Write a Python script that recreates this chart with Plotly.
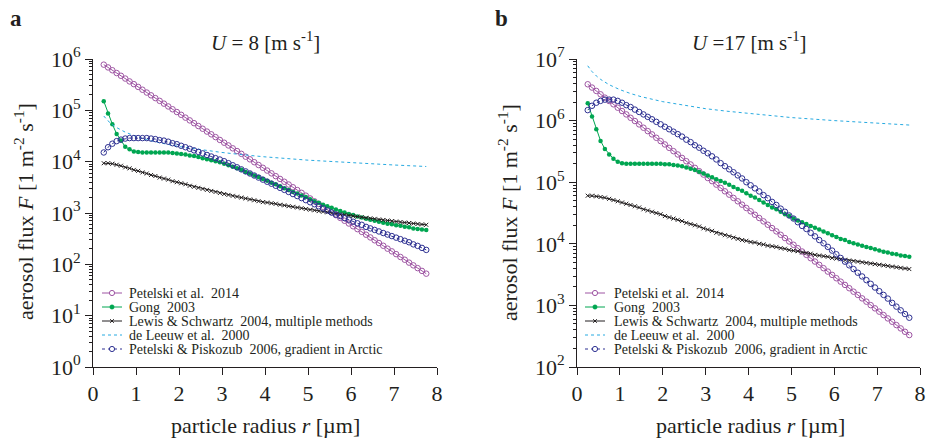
import plotly.graph_objects as go

# ---------------- data ----------------
radius = [0.25, 0.35, 0.45, 0.55, 0.65, 0.75, 0.85, 0.95,
          1.05, 1.15, 1.25, 1.35, 1.45, 1.55, 1.65, 1.75, 1.85, 1.95,
          2.05, 2.15, 2.25, 2.35, 2.45, 2.55, 2.65, 2.75, 2.85, 2.95,
          3.05, 3.15, 3.25, 3.35, 3.45, 3.55, 3.65, 3.75, 3.85, 3.95,
          4.05, 4.15, 4.25, 4.35, 4.45, 4.55, 4.65, 4.75, 4.85, 4.95,
          5.05, 5.15, 5.25, 5.35, 5.45, 5.55, 5.65, 5.75, 5.85, 5.95,
          6.05, 6.15, 6.25, 6.35, 6.45, 6.55, 6.65, 6.75, 6.85, 6.95,
          7.05, 7.15, 7.25, 7.35, 7.45, 7.55, 7.65, 7.75]
radius_leeuw = [0.25, 0.35, 0.45, 0.55, 0.75, 1.0, 1.25, 1.5, 2.0, 2.5, 3.0, 3.5, 4.0, 5.0, 6.0, 7.0, 7.75]

# U = 8 m/s
u8_petelski2014 = [7.76e5, 6.85e5, 6.04e5, 5.33e5, 4.71e5, 4.16e5, 3.66e5, 3.24e5,
                   2.86e5, 2.52e5, 2.22e5, 1.96e5, 1.73e5, 1.53e5, 1.35e5, 1.19e5, 1.05e5, 9.27e4,
                   8.18e4, 7.21e4, 6.37e4, 5.62e4, 4.95e4, 4.38e4, 3.86e4, 3.41e4, 3.01e4, 2.65e4,
                   2.34e4, 2.07e4, 1.82e4, 1.61e4, 1.42e4, 1.25e4, 1.11e4, 9.77e3, 8.61e3, 7.60e3,
                   6.71e3, 5.92e3, 5.22e3, 4.61e3, 4.06e3, 3.59e3, 3.17e3, 2.80e3, 2.47e3, 2.18e3,
                   1.92e3, 1.69e3, 1.50e3, 1.32e3, 1.16e3, 1.03e3, 908, 802, 706, 624,
                   551, 485, 429, 378, 334, 294, 260, 230, 202, 179,
                   158, 139, 123, 108, 95.5, 84.3, 74.5, 65.8]
u8_gong = [151000, 87100, 53700, 34700, 25700, 19500, 17400, 15800,
           15500, 15100, 15100, 15100, 15100, 15100, 15100, 15100, 14800, 14500,
           14100, 13800, 13200, 12900, 12300, 11700, 11200, 10700, 10200, 9770,
           9120, 8510, 7940, 7410, 6920, 6310, 5890, 5370, 5010, 4570,
           4270, 3890, 3630, 3310, 3020, 2820, 2570, 2400, 2190, 2040,
           1860, 1700, 1580, 1450, 1350, 1260, 1170, 1100, 1020, 955,
           912, 851, 813, 776, 741, 708, 676, 646, 617, 603,
           575, 562, 537, 525, 501, 490, 479, 468]
u8_lewis = [9330, 9330, 9120, 8710, 8320, 7760, 7410, 6920,
            6610, 6170, 5890, 5500, 5250, 4900, 4680, 4470, 4170, 3980,
            3800, 3630, 3390, 3240, 3090, 2950, 2820, 2690, 2570, 2450,
            2340, 2250, 2160, 2080, 2000, 1920, 1840, 1770, 1700, 1630,
            1600, 1550, 1510, 1450, 1410, 1360, 1320, 1280, 1240, 1200,
            1160, 1130, 1090, 1060, 1030, 1000, 970, 945, 920, 895,
            871, 851, 828, 806, 787, 768, 749, 731, 714, 698,
            682, 667, 652, 638, 624, 611, 599, 589]
u8_leeuw = [77600, 62200, 52700, 46100, 37600, 31100, 26900, 23800, 19700,
            17000, 15100, 13600, 12400, 10700, 9530, 8610, 8050]
u8_piskozub = [15100, 19100, 22400, 25100, 26900, 28200, 28800, 28800,
               28800, 28800, 28800, 28200, 27500, 26300, 25700, 24500, 22900, 21900,
               20400, 19100, 17800, 16600, 15500, 14500, 13500, 12600, 11700, 11000,
               10200, 9330, 8510, 7760, 7080, 6460, 5890, 5370, 4900, 4470,
               4070, 3720, 3390, 3090, 2820, 2570, 2340, 2140, 1950, 1780,
               1620, 1480, 1350, 1230, 1120, 1020, 933, 871, 794, 741,
               676, 631, 589, 537, 501, 468, 437, 407, 380, 355,
               331, 309, 288, 269, 245, 229, 209, 191]

# U = 17 m/s
u17_petelski2014 = [3.89e6, 3.44e6, 3.03e6, 2.67e6, 2.36e6, 2.08e6, 1.84e6, 1.62e6,
                    1.43e6, 1.26e6, 1.11e6, 9.84e5, 8.67e5, 7.66e5, 6.76e5, 5.97e5, 5.26e5, 4.65e5,
                    4.10e5, 3.61e5, 3.19e5, 2.82e5, 2.48e5, 2.19e5, 1.94e5, 1.71e5, 1.51e5, 1.33e5,
                    1.17e5, 1.04e5, 9.14e4, 8.07e4, 7.11e4, 6.28e4, 5.55e4, 4.90e4, 4.32e4, 3.81e4,
                    3.37e4, 2.96e4, 2.62e4, 2.31e4, 2.04e4, 1.80e4, 1.59e4, 1.40e4, 1.24e4, 1.09e4,
                    9.64e3, 8.49e3, 7.50e3, 6.62e3, 5.83e3, 5.15e3, 4.55e3, 4.02e3, 3.54e3, 3.13e3,
                    2.76e3, 2.43e3, 2.15e3, 1.90e3, 1.67e3, 1.48e3, 1.30e3, 1.15e3, 1.01e3, 895,
                    791, 697, 615, 543, 479, 423, 373, 330]
u17_gong = [1910000, 1170000, 724000, 468000, 347000, 282000, 240000, 214000,
            204000, 200000, 200000, 200000, 200000, 200000, 200000, 200000, 200000, 200000,
            195000, 195000, 191000, 186000, 182000, 174000, 166000, 158000, 148000, 138000,
            129000, 120000, 112000, 105000, 97700, 91200, 83200, 77600, 72400, 66100,
            60300, 56200, 51300, 46800, 42700, 38900, 36300, 33100, 30200, 28200,
            25700, 24000, 22400, 20900, 19500, 18200, 17000, 15800, 14800, 13800,
            12900, 12000, 11500, 10700, 10200, 9770, 9330, 8910, 8510, 8130,
            7760, 7410, 7240, 6920, 6760, 6460, 6310, 6170]
u17_lewis = [60300, 60300, 58900, 57500, 56200, 53700, 51300, 49000,
             46800, 44700, 42700, 40700, 38900, 36300, 34700, 33100, 31600, 30200,
             28200, 26900, 25700, 24500, 23400, 21900, 20900, 20000, 19100, 17800,
             17000, 16200, 15100, 14500, 13800, 13200, 12600, 12000, 11500, 11200,
             10700, 10500, 10000, 9770, 9330, 9120, 8910, 8510, 8320, 7940,
             7760, 7590, 7240, 7080, 6920, 6610, 6460, 6310, 6170, 5890,
             5750, 5620, 5500, 5370, 5250, 5130, 5010, 4900, 4790, 4680,
             4570, 4470, 4370, 4270, 4170, 4070, 3980, 3890]
u17_leeuw = [7760000, 6250000, 5320000, 4670000, 3820000, 3180000, 2750000, 2440000, 2030000,
             1760000, 1560000, 1420000, 1300000, 1120000, 1000000, 906000, 847000]
u17_piskozub = [1480000, 1740000, 1950000, 2090000, 2190000, 2190000, 2190000, 2090000,
                1950000, 1780000, 1660000, 1510000, 1380000, 1260000, 1150000, 1050000, 955000, 871000,
                794000, 724000, 661000, 603000, 550000, 490000, 447000, 398000, 363000, 324000,
                295000, 263000, 234000, 204000, 182000, 162000, 145000, 129000, 115000, 100000,
                89100, 79400, 70800, 61700, 55000, 47900, 42700, 37200, 33100, 28800,
                25700, 22400, 19500, 17400, 15100, 13200, 11500, 10200, 8910, 7760,
                6760, 5890, 5130, 4470, 3890, 3390, 2950, 2570, 2240, 1950,
                1700, 1480, 1290, 1100, 955, 832, 724, 631]

series_names = ["Petelski et al.\u00a0 2014", "Gong\u00a0 2003",
                "Lewis & Schwartz\u00a0 2004, multiple methods",
                "de Leeuw et al.\u00a0 2000",
                "Petelski & Piskozub\u00a0 2006, gradient in Arctic"]
panel_titles = ["<i>U</i> = 8 [m s<sup>-1</sup>]", "<i>U</i> =17 [m s<sup>-1</sup>]"]
panel_letters = ["a", "b"]
x_ticks = [0, 1, 2, 3, 4, 5, 6, 7, 8]
y_exp_left = [0, 1, 2, 3, 4, 5, 6]
y_exp_right = [2, 3, 4, 5, 6, 7]

for arr in [u8_petelski2014, u8_gong, u8_lewis, u8_piskozub,
            u17_petelski2014, u17_gong, u17_lewis, u17_piskozub]:
    assert len(arr) == len(radius), len(arr)

# ---------------- styles ----------------
FONT = "Liberation Serif, Times New Roman, Times, serif"
PURPLE = "#9e55a3"
GREEN = "#00a651"
BLACK = "#231f20"
CYAN = "#27aae1"
BLUE = "#2e3192"
W, H = 927, 439

styles = [
    dict(mode="lines+markers", line=dict(color=PURPLE, width=1),
         marker=dict(symbol="circle-open", size=5.5, color=PURPLE, line=dict(width=1, color=PURPLE))),
    dict(mode="lines+markers", line=dict(color=GREEN, width=1),
         marker=dict(symbol="circle", size=4.5, color=GREEN)),
    dict(mode="lines+markers", line=dict(color=BLACK, width=1),
         marker=dict(symbol="x-thin", size=4, color=BLACK, line=dict(width=1, color=BLACK))),
    dict(mode="lines", line=dict(color=CYAN, width=1, dash="dot")),
    dict(mode="lines+markers", line=dict(color=BLUE, width=1, dash="dot"),
         marker=dict(symbol="circle-open", size=5.5, color=BLUE, line=dict(width=1, color=BLUE))),
]

panels = [
    dict(data=[u8_petelski2014, u8_gong, u8_lewis, u8_leeuw, u8_piskozub], xa="x", ya="y"),
    dict(data=[u17_petelski2014, u17_gong, u17_lewis, u17_leeuw, u17_piskozub], xa="x2", ya="y2"),
]

fig = go.Figure()
for p in panels:
    for k, (vals, st) in enumerate(zip(p["data"], styles)):
        xs = radius_leeuw if k == 3 else radius
        fig.add_trace(go.Scatter(x=xs, y=vals, name=series_names[k], xaxis=p["xa"], yaxis=p["ya"],
                                 showlegend=False, hoverinfo="x+y", **st))

def X(px):
    return px / W

def Y(py):
    return 1 - py / H

tickfont = dict(family=FONT, size=22, color=BLACK)
xbase = dict(range=[0, 8], tickmode="array", tickvals=x_ticks, ticktext=[str(v) for v in x_ticks],
             ticklen=7, tickcolor=BLACK, showline=True, linecolor=BLACK, linewidth=1,
             showgrid=False, zeroline=False, tickfont=tickfont, automargin=False)
ybase = dict(type="log", ticklen=7, tickcolor=BLACK, showline=True, linecolor=BLACK,
             linewidth=1, showgrid=False, zeroline=False, tickfont=tickfont, automargin=False)

def yminor(direction):
    return dict(ticks=direction, ticklen=3.5, tickcolor=BLACK, dtick="D1", showgrid=False)

ydom = [Y(367), Y(59)]
ticks_left = dict(tickvals=[10 ** e for e in y_exp_left], ticktext=["10<sup>%d</sup>" % e for e in y_exp_left])
ticks_right = dict(tickvals=[10 ** e for e in y_exp_right], ticktext=["10<sup>%d</sup>" % e for e in y_exp_right])

fig.update_layout(
    width=W, height=H, margin=dict(l=0, r=0, t=0, b=0, autoexpand=False),
    paper_bgcolor="white", plot_bgcolor="white",
    font=dict(family=FONT, color=BLACK),
    # panel a
    xaxis=dict(domain=[X(93), X(437)], anchor="y", ticks="outside", **xbase),
    yaxis=dict(domain=ydom, anchor="x", range=[0, 6], ticks="outside", minor=yminor("outside"),
               **ticks_left, **ybase),
    xaxis3=dict(overlaying="x", anchor="y", side="top", ticks="inside", showticklabels=False, **xbase),
    yaxis3=dict(overlaying="y", anchor="x", side="right", range=[0, 6], ticks="inside",
                minor=yminor("inside"), showticklabels=False, **ticks_left, **ybase),
    # panel b
    xaxis2=dict(domain=[X(577), X(920)], anchor="y2", ticks="outside", **xbase),
    yaxis2=dict(domain=ydom, anchor="x2", range=[2, 7], ticks="outside", minor=yminor("outside"),
                **ticks_right, **ybase),
    xaxis4=dict(overlaying="x2", anchor="y2", side="top", ticks="inside", showticklabels=False, **xbase),
    yaxis4=dict(overlaying="y2", anchor="x2", side="right", range=[2, 7], ticks="inside",
                minor=yminor("inside"), showticklabels=False, **ticks_right, **ybase),
)

ann = []
shapes = []
# panel letters and titles
for letter, (lx, ly) in zip(panel_letters, [(16, 19), (501, 19)]):
    ann.append(dict(text="<b>%s</b>" % letter, x=X(lx), y=Y(ly), xref="paper", yref="paper",
                    showarrow=False, xanchor="center", yanchor="middle",
                    font=dict(family=FONT, size=23, color=BLACK)))
for title, cx in zip(panel_titles, [265, 749]):
    ann.append(dict(text=title, x=X(cx), y=Y(41), xref="paper", yref="paper", showarrow=False,
                    xanchor="center", yanchor="middle", font=dict(family=FONT, size=21, color=BLACK)))
# axis titles
for cx in [265, 750]:
    ann.append(dict(text="particle radius <i>r</i> [µm]", x=X(cx), y=Y(425), xref="paper", yref="paper",
                    showarrow=False, xanchor="center", yanchor="middle",
                    font=dict(family=FONT, size=22, color=BLACK)))
for cx in [24, 508]:
    ann.append(dict(text="aerosol flux <i>F</i> [1 m<sup>-2</sup> s<sup>-1</sup>]", x=X(cx), y=Y(212),
                    xref="paper", yref="paper", showarrow=False, textangle=-90,
                    xanchor="center", yanchor="middle", font=dict(family=FONT, size=22, color=BLACK)))

# manual legends (tight line spacing as in the original)
rows = [293, 307, 321, 335, 349]
for lx0, lx1, tx in [(102, 122, 127), (585, 605, 612)]:
    mx = (lx0 + lx1) / 2
    for k, ry in enumerate(rows):
        st = styles[k]
        col = st["line"]["color"]
        dash = st["line"].get("dash", "solid")
        shapes.append(dict(type="line", xref="paper", yref="paper", x0=X(lx0), x1=X(lx1), y0=Y(ry), y1=Y(ry),
                           line=dict(color=col, width=1, dash=dash)))
        if k in (0, 4):
            r = 2.6
            shapes.append(dict(type="circle", xref="paper", yref="paper", x0=X(mx - r), x1=X(mx + r),
                               y0=Y(ry + r), y1=Y(ry - r), line=dict(color=col, width=1), fillcolor="white"))
        elif k == 1:
            r = 2.2
            shapes.append(dict(type="circle", xref="paper", yref="paper", x0=X(mx - r), x1=X(mx + r),
                               y0=Y(ry + r), y1=Y(ry - r), line=dict(color=col, width=0.5), fillcolor=col))
        elif k == 2:
            r = 1.8
            for sgn in (1, -1):
                shapes.append(dict(type="line", xref="paper", yref="paper", x0=X(mx - r), x1=X(mx + r),
                                   y0=Y(ry - sgn * r), y1=Y(ry + sgn * r), line=dict(color=col, width=1)))
        ann.append(dict(text=series_names[k], x=X(tx), y=Y(ry), xref="paper", yref="paper",
                        showarrow=False, xanchor="left", yanchor="middle",
                        font=dict(family=FONT, size=14, color=BLACK)))

fig.update_layout(annotations=ann, shapes=shapes)
fig.write_html("out.html", config={"displayModeBar": False},
               post_script="document.body.style.margin='0';document.body.style.padding='0';")
